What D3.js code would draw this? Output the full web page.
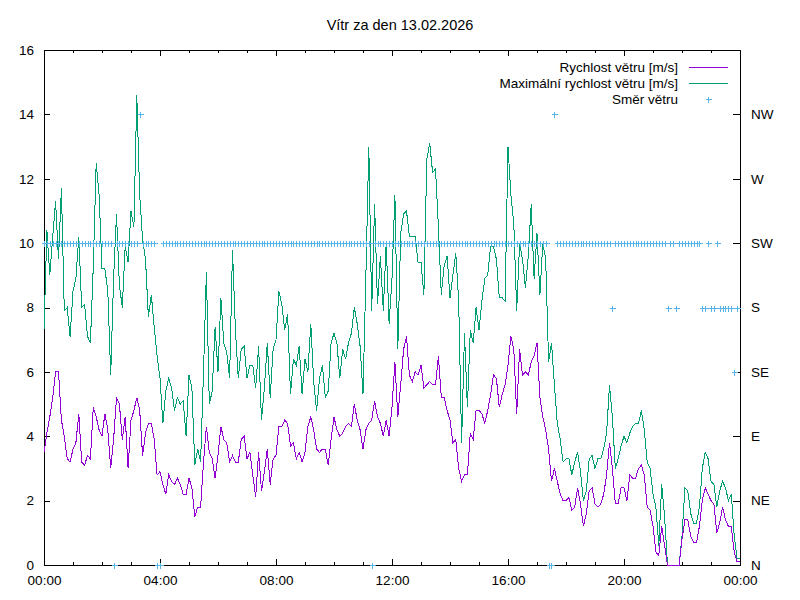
<html>
<head>
  <meta charset="utf-8" />
  <script src="https://d3js.org/d3.v7.min.js"></script>
</head>
<body style="margin: 0; background: white">
<script>

// samples every 6 minutes, 00:00 .. 24:00
var startTime = new Date(2026, 1, 13, 0, 0)
var stepMinutes = 6

var speed = [
  3.5, 4.1, 4.6, 5.2, 6.0, 6.0, 4.5, 4.0, 3.3, 3.2, 3.6,
  3.8, 4.7, 3.2, 3.1, 3.4, 3.3, 4.9, 4.6, 4.2, 4.0,
  4.7, 4.2, 3.0, 3.9, 5.2, 5.0, 3.9, 4.6, 3.0, 4.5,
  4.8, 5.2, 4.8, 3.4, 4.1, 4.4, 4.4, 3.9, 2.8, 2.9,
  2.5, 2.2, 2.8, 2.6, 2.5, 2.7, 2.5, 2.2, 2.2, 2.7,
  2.4, 1.5, 1.8, 1.8, 3.2, 4.3, 3.5, 3.3, 2.7, 3.4,
  4.3, 3.9, 3.8, 3.2, 3.4, 3.2, 3.2, 3.9, 4.0, 3.3,
  3.5, 2.8, 2.1, 3.5, 2.3, 2.9, 3.6, 2.5, 3.3, 3.4,
  4.3, 4.3, 4.5, 4.4, 3.7, 3.8, 3.3, 3.5, 3.2, 3.5,
  4.3, 4.6, 4.2, 3.6, 3.5, 3.6, 3.6, 3.1, 3.9, 4.6,
  4.2, 4.0, 4.1, 4.3, 4.4, 4.3, 5.0, 4.5, 4.2, 3.6,
  4.2, 4.4, 4.5, 5.1, 4.6, 4.4, 4.0, 4.5, 4.0, 4.9,
  6.3, 4.6, 5.6, 6.7, 7.1, 5.9, 5.7, 6.0, 5.9, 6.2,
  5.5, 5.6, 5.7, 5.6, 5.6, 6.5, 5.2, 5.2, 4.8, 4.5,
  3.8, 3.9, 3.0, 2.6, 2.8, 2.8, 4.1, 3.9, 4.8, 4.8,
  4.7, 4.4, 4.8, 5.3, 5.9, 5.8, 4.9, 5.3, 5.6, 6.2,
  7.1, 6.7, 4.7, 6.7, 5.9, 6.0, 5.9, 6.3, 6.5, 6.9,
  5.2, 4.6, 4.2, 3.6, 2.6, 3.0, 2.6, 2.2, 2.0, 2.0,
  2.1, 1.7, 1.8, 2.4, 1.9, 1.2, 1.6, 2.3, 2.4, 1.9,
  1.8, 1.9, 2.2, 2.8, 3.8, 3.0, 1.9, 1.9, 2.4, 2.4,
  2.0, 2.8, 2.7, 2.7, 3.0, 3.1, 2.8, 1.8, 1.7, 1.2,
  0.4, 0.3, 1.2, 0.6, 0, 0, 0, 0, 0, 0.8,
  1.4, 1.4, 0.9, 0.7, 0.7, 1.2, 2.0, 2.4, 2.2, 2.0,
  1.9, 1.0, 1.3, 1.8, 1.4, 1.2, 1.2, 0.4, 0.1, 0.1
]

var gust = [
  7.3, 10.4, 9.0, 10.2, 11.3, 9.5, 11.7, 7.9, 8.0, 7.1, 8.5,
  8.9, 10.2, 8.0, 8.1, 7.1, 6.9, 9.3, 12.5, 11.5, 9.2,
  9.2, 8.5, 5.9, 8.9, 10.9, 8.7, 8.0, 9.9, 9.4, 11.0,
  10.5, 14.6, 11.5, 10.1, 9.5, 7.7, 8.4, 7.4, 6.5, 5.8,
  4.4, 5.4, 5.8, 5.5, 4.8, 5.2, 5.0, 5.1, 4.0, 5.9,
  5.5, 3.1, 3.6, 3.2, 6.0, 9.1, 5.0, 5.4, 7.4, 6.0,
  8.3, 6.9, 6.6, 5.8, 9.8, 7.3, 5.8, 6.7, 6.8, 5.8,
  6.2, 6.2, 5.5, 6.8, 4.5, 5.5, 6.9, 5.2, 6.7, 7.0,
  8.5, 8.1, 7.3, 7.8, 5.3, 6.4, 6.2, 6.8, 5.3, 6.4,
  6.0, 7.5, 5.7, 4.8, 5.8, 6.2, 5.2, 5.4, 6.9, 7.2,
  6.9, 5.8, 6.7, 6.4, 6.9, 7.2, 8.0, 7.5, 6.8, 5.3,
  9.0, 13.0, 7.9, 11.2, 8.1, 9.6, 7.9, 10.0, 7.5, 8.9,
  11.5, 6.7, 10.3, 10.9, 11.0, 10.2, 10.2, 10.2, 9.4, 9.4,
  8.4, 12.6, 13.1, 12.2, 12.3, 10.5, 8.4, 9.3, 9.6, 8.3,
  9.0, 9.7, 8.2, 3.8, 7.2, 4.9, 7.3, 6.9, 8.0, 7.3,
  8.2, 8.9, 9.0, 9.9, 9.9, 9.5, 8.3, 8.3, 8.2, 13.0,
  11.5, 10.6, 7.9, 10.0, 9.5, 8.6, 9.6, 11.2, 8.9, 10.3,
  8.4, 10.0, 9.5, 6.3, 6.9, 5.6, 4.4, 3.9, 3.2, 3.3,
  3.3, 2.8, 3.2, 3.5, 2.9, 2.0, 2.3, 3.3, 3.4, 3.0,
  3.3, 3.3, 3.6, 4.1, 5.6, 4.6, 3.0, 3.3, 3.7, 4.0,
  3.8, 4.1, 4.3, 4.4, 4.4, 4.8, 4.2, 3.2, 3.0, 2.2,
  1.8, 0.6, 2.5, 1.5, 0, 0, 0, 0, 0, 0.9,
  2.4, 2.3, 1.6, 1.3, 1.3, 1.8, 3.0, 3.5, 3.3, 2.6,
  2.5, 1.8, 2.3, 2.6, 2.4, 2.0, 2.2, 0.9, 0.2, 0.2
]

// 0 = N, 2 = NE ... 14 = NW
var direction = [
  10, 10, 10, 10, 10, 10, 10, 10, 10, 10, 10, 10, 10, 10, 10, 10, 10, 10, 10, 10,
  10, 10, 10, 10, 0, 10, 10, 10, 10, 10, 10, 10, 10, 14, 10, 10, 10, 10, 10, 0,
  0, 10, 10, 10, 10, 10, 10, 10, 10, 10, 10, 10, 10, 10, 10, 10, 10, 10, 10, 10,
  10, 10, 10, 10, 10, 10, 10, 10, 10, 10, 10, 10, 10, 10, 10, 10, 10, 10, 10, 10,
  10, 10, 10, 10, 10, 10, 10, 10, 10, 10, 10, 10, 10, 10, 10, 10, 10, 10, 10, 10,
  10, 10, 10, 10, 10, 10, 10, 10, 10, 10, 10, 10, 10, 0, 10, 10, 10, 10, 10, 10,
  10, 10, 10, 10, 10, 10, 10, 10, 10, 10, 10, 10, 10, 10, 10, 10, 10, 10, 10, 10,
  10, 10, 10, 10, 10, 10, 10, 10, 10, 10, 10, 10, 10, 10, 10, 10, 10, 10, 10, 10,
  10, 10, 10, 10, 10, 10, 10, 10, 10, 10, 10, 10, 10, 10, 0, 0, 14, 10, 10, 10,
  10, 10, 10, 10, 10, 10, 10, 10, 10, 10, 10, 10, 10, 10, 10, 10, 8, 10, 10, 10,
  10, 10, 10, 10, 10, 10, 10, 10, 10, 10, 10, 10, 10, 10, 10, 8, 10, 10, 8, 10,
  10, 10, 10, 10, 10, 10, 10, 8, 8, 10, 8, 8, 10, 8, 8, 8, 8, 8, 6, 8,
  null
]

var dirTicks = [0, 2, 4, 6, 8, 10, 12, 14]
var dirLabels = ['N', 'NE', 'E', 'SE', 'S', 'SW', 'W', 'NW']
var speedTicks = [0, 2, 4, 6, 8, 10, 12, 14, 16]

var titleText = 'Vítr za den 13.02.2026'
var legendNames = ['Rychlost větru [m/s]', 'Maximální rychlost větru [m/s]', 'Směr větru']
var colors = ['#9400d3', '#009e73', '#56b4e9']

function draw() {
  var width = 800, height = 600
  var plotLeft = 44, plotRight = 740, plotTop = 50, plotBottom = 565
  var font = '"Liberation Sans", Arial, sans-serif'

  var svg = d3.select('body').append('svg')
    .attr('width', width)
    .attr('height', height)
    .style('font-family', font)
    .style('font-size', '13.5px')

  svg.append('rect').attr('width', width).attr('height', height).attr('fill', 'white')

  function timeAt(i) {
    return d3.timeMinute.offset(startTime, i * stepMinutes)
  }

  var x = d3.scaleTime()
    .domain([startTime, d3.timeDay.offset(startTime, 1)])
    .range([plotLeft, plotRight])
  var y = d3.scaleLinear().domain([0, 16]).range([plotBottom, plotTop])
  var y2 = d3.scaleLinear().domain([0, 16]).range([plotBottom, plotTop])

  // minor hour ticks, bottom and top
  var hours = x.ticks(d3.timeHour.every(1))
  svg.append('g').selectAll('line').data(hours).enter().append('line')
    .attr('x1', d => Math.round(x(d)) + 0.5).attr('x2', d => Math.round(x(d)) + 0.5)
    .attr('y1', plotBottom).attr('y2', plotBottom - 3)
    .attr('stroke', 'black')
  svg.append('g').selectAll('line').data(hours).enter().append('line')
    .attr('x1', d => Math.round(x(d)) + 0.5).attr('x2', d => Math.round(x(d)) + 0.5)
    .attr('y1', plotTop).attr('y2', plotTop + 3)
    .attr('stroke', 'black')

  svg.append('g').attr('transform', 'translate(0,' + plotBottom + ')')
    .call(d3.axisBottom(x)
      .ticks(d3.timeHour.every(4))
      .tickFormat(d3.timeFormat('%H:%M'))
      .tickSize(-6)
      .tickPadding(10))

  svg.append('g').attr('transform', 'translate(0,' + plotTop + ')')
    .call(d3.axisTop(x).ticks(d3.timeHour.every(4)).tickSize(-6).tickFormat(''))

  svg.append('g').attr('transform', 'translate(' + plotLeft + ',0)')
    .call(d3.axisLeft(y).tickValues(speedTicks).tickSize(-6).tickPadding(10))

  svg.append('g').attr('transform', 'translate(' + plotRight + ',0)')
    .call(d3.axisRight(y2).tickValues(dirTicks).tickSize(-7).tickPadding(11)
      .tickFormat((d, i) => dirLabels[i]))

  svg.selectAll('.domain').remove()
  svg.selectAll('.tick text').attr('fill', 'black').style('font-family', font).style('font-size', '13.5px')
  svg.selectAll('.tick line').attr('stroke', 'black').attr('shape-rendering', 'crispEdges')

  // border
  svg.append('rect')
    .attr('x', plotLeft + 0.5).attr('y', plotTop + 0.5)
    .attr('width', plotRight - plotLeft).attr('height', plotBottom - plotTop)
    .attr('fill', 'none').attr('stroke', 'black')
    .attr('shape-rendering', 'crispEdges')

  var line = d3.line()
    .x(d => x(d.t))
    .y(d => y(d.v))

  var speedData = speed.map((v, i) => ({ t: timeAt(i), v: v }))
  var gustData = gust.map((v, i) => ({ t: timeAt(i), v: v }))
  var dirData = direction.map((v, i) => ({ t: timeAt(i), v: v })).filter(d => d.v !== null)

  svg.append('path').datum(gustData)
    .attr('d', line)
    .attr('fill', 'none')
    .attr('stroke', colors[1])
    .attr('stroke-width', 1)
    .attr('shape-rendering', 'crispEdges')

  svg.append('path').datum(speedData)
    .attr('d', line)
    .attr('fill', 'none')
    .attr('stroke', colors[0])
    .attr('stroke-width', 1)
    .attr('shape-rendering', 'crispEdges')

  var plus = 'M-3,0H3M0,-3V3'
  svg.append('g').selectAll('path').data(dirData).enter().append('path')
    .attr('d', plus)
    .attr('transform', d => 'translate(' + (Math.round(x(d.t)) + 0.5) + ',' + (Math.round(y2(d.v)) + 0.5) + ')')
    .attr('stroke', colors[2])
    .attr('fill', 'none')
    .attr('shape-rendering', 'crispEdges')

  // title
  svg.append('text')
    .attr('x', 400).attr('y', 25)
    .attr('text-anchor', 'middle')
    .attr('dy', '0.35em')
    .style('font-size', '14.5px')
    .text(titleText)

  // legend
  var legend = svg.append('g')
  legendNames.forEach(function(name, i) {
    var ly = 67 + i * 16
    legend.append('text')
      .attr('x', 678).attr('y', ly)
      .attr('dy', '0.35em')
      .attr('text-anchor', 'end')
      .text(name)
    if (i < 2) {
      legend.append('line')
        .attr('x1', 689).attr('x2', 728)
        .attr('y1', ly + 0.5).attr('y2', ly + 0.5)
        .attr('stroke', colors[i])
        .attr('shape-rendering', 'crispEdges')
    } else {
      legend.append('path')
        .attr('d', plus)
        .attr('transform', 'translate(708.5,' + (ly + 0.5) + ')')
        .attr('stroke', colors[i])
        .attr('shape-rendering', 'crispEdges')
    }
  })
}

draw()

</script>
</body>
</html>
